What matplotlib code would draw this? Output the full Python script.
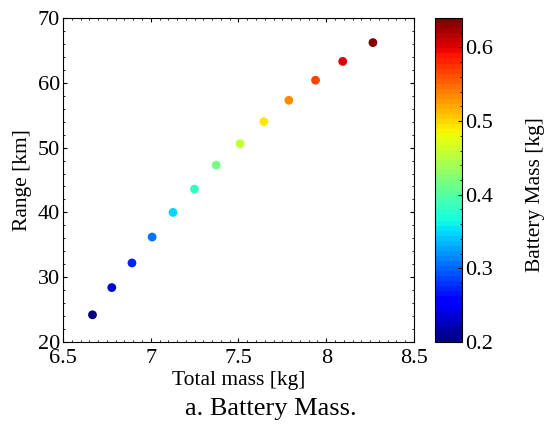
import matplotlib.pyplot as plt
from matplotlib.ticker import MultipleLocator

# data
total_mass = [6.668, 6.778, 6.893, 7.008, 7.127, 7.249, 7.373, 7.509, 7.645, 7.787, 7.939, 8.094, 8.266]
range_km = [24.2, 28.4, 32.2, 36.2, 40.0, 43.6, 47.3, 50.6, 54.0, 57.3, 60.4, 63.3, 66.2]
battery_mass = [0.200, 0.237, 0.273, 0.310, 0.347, 0.383, 0.420, 0.457, 0.493, 0.530, 0.567, 0.603, 0.640]

plt.rcParams['font.family'] = ['Liberation Serif', 'DejaVu Serif']
plt.rcParams['font.size'] = 15

fig = plt.figure(figsize=(5.44, 4.28), dpi=100)
ax = fig.add_axes([0.1158, 0.2009, 0.6452, 0.7571])
cax = fig.add_axes([0.7996, 0.2009, 0.0496, 0.7571])

cmap = plt.get_cmap('jet', 64)
sc = ax.scatter(total_mass, range_km, c=battery_mass, cmap=cmap, s=40,
                vmin=0.2, vmax=0.64, edgecolors='none')

ax.set_xlim(6.5, 8.5)
ax.set_ylim(20, 70)
ax.xaxis.set_major_locator(MultipleLocator(0.5))
ax.xaxis.set_minor_locator(MultipleLocator(0.05))
ax.yaxis.set_major_locator(MultipleLocator(10))
ax.yaxis.set_minor_locator(MultipleLocator(2))
ax.set_xticks([6.5, 7, 7.5, 8, 8.5], ['6.5', '7', '7.5', '8', '8.5'])
ax.tick_params(which='both', direction='in', top=True, right=True, labelsize=16)
ax.tick_params(axis='x', pad=5)
ax.tick_params(axis='y', pad=2)
ax.tick_params(which='major', length=3)
ax.tick_params(which='minor', length=1.5)
ax.set_xlabel('Total mass [kg]', fontsize=15.5, labelpad=2)
ax.set_ylabel('Range [km]', fontsize=15.5, labelpad=4)

cb = fig.colorbar(sc, cax=cax)
cb.set_ticks([0.2, 0.3, 0.4, 0.5, 0.6])
cb.ax.yaxis.set_minor_locator(MultipleLocator(0.02))
cb.ax.tick_params(which='both', direction='in', labelsize=16, pad=2)
cb.ax.tick_params(which='major', length=3)
cb.ax.tick_params(which='minor', length=1.5)

fig.text(0.985, 0.545, 'Battery Mass [kg]', rotation=90, ha='center', va='center', fontsize=15.5)
fig.text(0.497, 0.03, 'a. Battery Mass.', ha='center', va='baseline', fontsize=19)

fig.savefig('out.png', dpi=100)
